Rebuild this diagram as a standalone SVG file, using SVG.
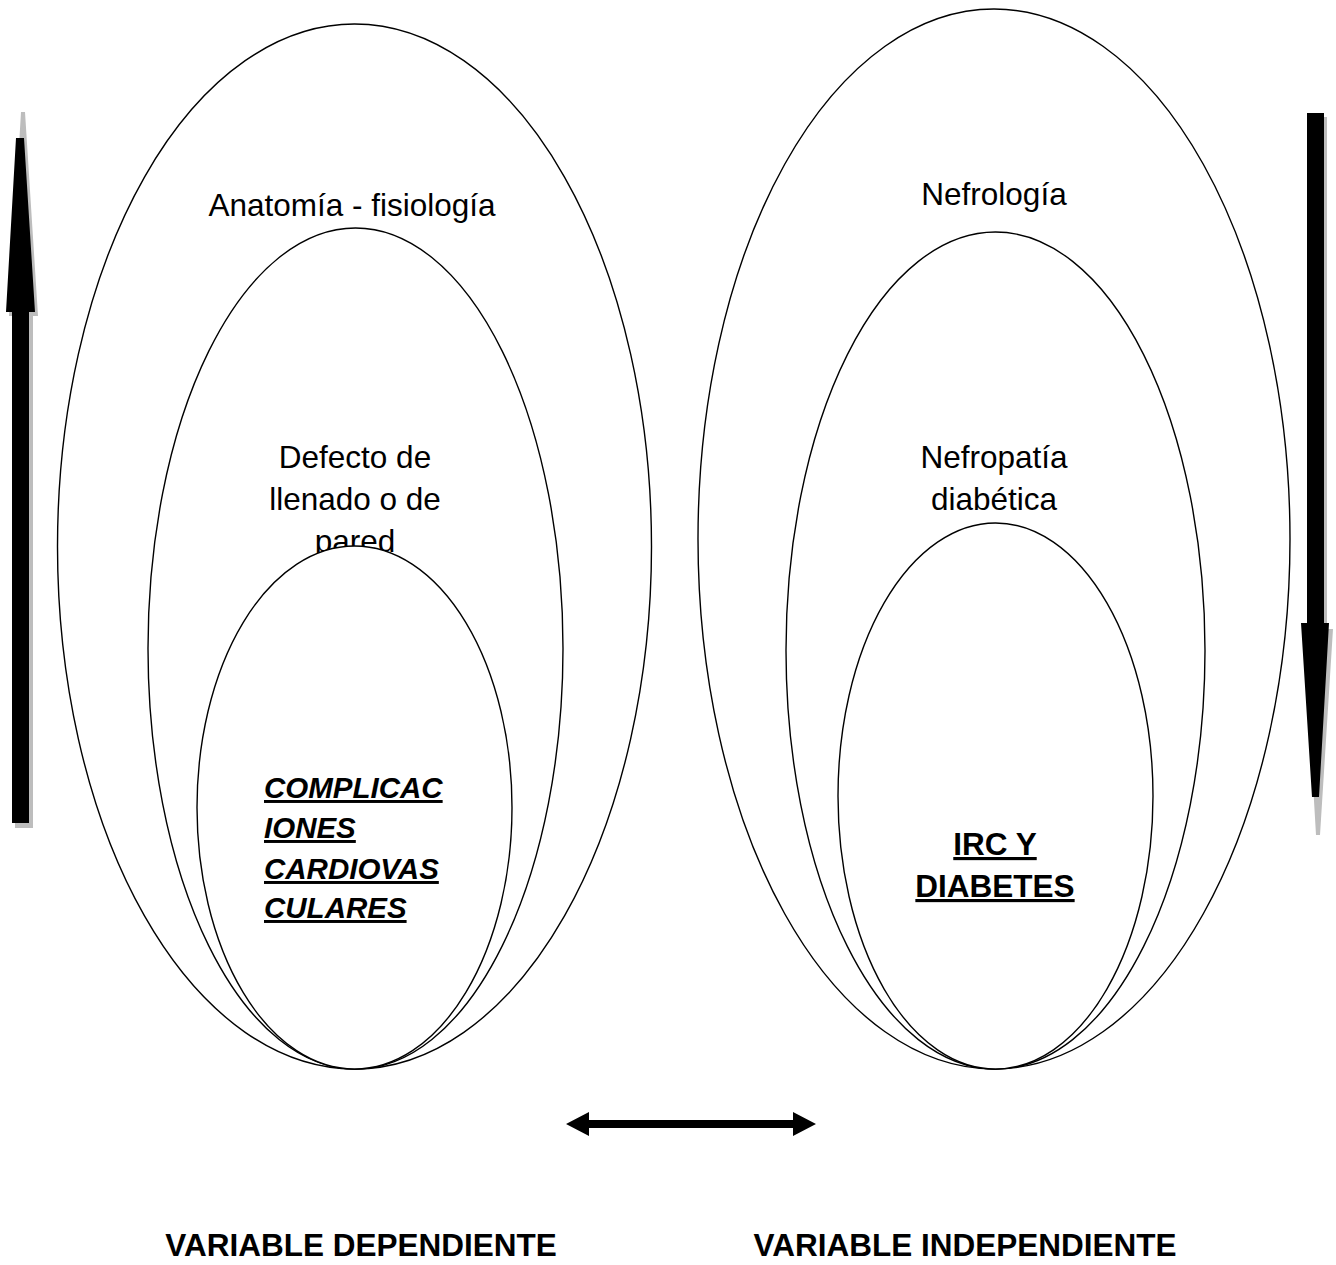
<svg xmlns="http://www.w3.org/2000/svg" width="1336" height="1265" viewBox="0 0 1336 1265">
<style>
.ell{fill:#fff;stroke:#000;stroke-width:1.4}
.t{font-family:"Liberation Sans",Arial,sans-serif;font-size:31.5px;fill:#000}
.c{text-anchor:middle}
.b{font-weight:bold}
.u{text-decoration:underline}
.i{font-style:italic;font-size:29.5px}
.sh{fill:#bdbdbd}
</style>
<rect width="1336" height="1265" fill="#fff"/>
<g id="left-outer">
<ellipse class="ell" cx="354.5" cy="546.5" rx="297" ry="522.5"/>
<text class="t c" x="352" y="216">Anatomía - fisiología</text>
</g>
<g id="left-middle">
<ellipse class="ell" cx="355.5" cy="648.5" rx="207.5" ry="420.5"/>
<text class="t c" x="355" y="468">Defecto de</text>
<text class="t c" x="355" y="510">llenado o de</text>
<text class="t c" x="355" y="552">pared</text>
</g>
<g id="left-inner">
<ellipse class="ell" cx="354.5" cy="807.5" rx="157.5" ry="261.5"/>
<text class="t b i u" x="264" y="798">COMPLICAC</text>
<text class="t b i u" x="264" y="838">IONES</text>
<text class="t b i u" x="264" y="879">CARDIOVAS</text>
<text class="t b i u" x="264" y="918">CULARES</text>
</g>
<g id="right-outer">
<ellipse class="ell" cx="994" cy="539" rx="296" ry="530"/>
<text class="t c" x="994" y="205">Nefrología</text>
</g>
<g id="right-middle">
<ellipse class="ell" cx="995.5" cy="650.5" rx="209.5" ry="418.5"/>
<text class="t c" x="994" y="468">Nefropatía</text>
<text class="t c" x="994" y="510">diabética</text>
</g>
<g id="right-inner">
<ellipse class="ell" cx="995.5" cy="796" rx="157.5" ry="273"/>
<text class="t c b u" x="995" y="855">IRC Y</text>
<text class="t c b u" x="995" y="897">DIABETES</text>
</g>
<g id="connectors">
<g id="up-arrow">
<polygon class="sh" points="21,112 25,112 38,316 33,316 33,828 15,828 15,316 9,316"/>
<polygon points="16,138 24,138 35,312 29,312 29,823 12,823 12,312 6,312"/>
</g>
<g id="down-arrow">
<polygon class="sh" points="1310,117 1327,117 1327,629 1333,629 1320,835 1316,835 1304,629 1310,629"/>
<polygon points="1307,113 1324,113 1324,623 1329,623 1319,797 1312,797 1301,623 1307,623"/>
</g>
<g id="double-arrow">
<polygon points="566,1124 589,1112 589,1120 793,1120 793,1112 816,1124 793,1136 793,1128 589,1128 589,1136"/>
</g>
</g>
<g id="labels">
<text class="t c b" x="361" y="1256">VARIABLE DEPENDIENTE</text>
<text class="t c b" x="965" y="1256">VARIABLE INDEPENDIENTE</text>
</g>
</svg>
